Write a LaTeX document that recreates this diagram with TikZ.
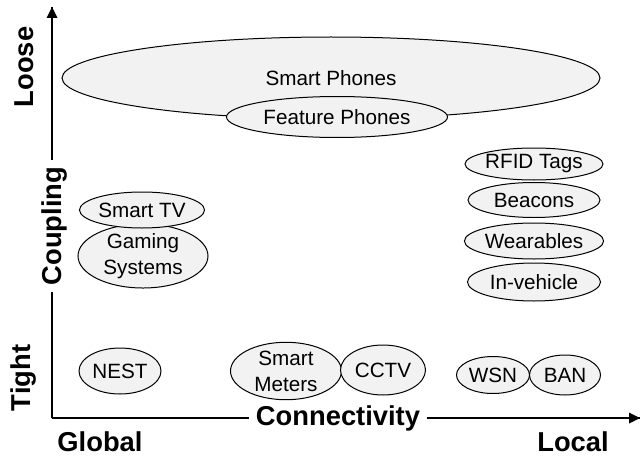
\documentclass[tikz,border=0pt]{standalone}
\usepackage{fontspec}
\setmainfont{Liberation Sans}
\usepackage{tikz}
\usetikzlibrary{shapes.geometric}
\definecolor{bubblefill}{RGB}{242,242,242}
\tikzset{every picture/.style={line width=0.75pt}}
\tikzset{
  bubble/.style={ellipse, draw, fill=bubblefill, inner sep=0pt, align=center, font=\fontsize{15.5}{19.5}\selectfont},
  bsize/.style 2 args={minimum width=#1*0.75pt, minimum height=#2*0.75pt},
  axislabel/.style={font=\fontsize{20.5}{24}\selectfont\bfseries, inner sep=0pt},
  axisline/.style={line width=1.1pt},
}

\begin{document}
\begin{tikzpicture}[x=0.75pt,y=0.75pt,yscale=-1,xscale=1]
\path (0,0) rectangle (642,460); %diagram is 642 x 460

%Axes
\coordinate (origin) at (52,418);
\coordinate (xtip) at (640,418);
\coordinate (ytip) at (52,7);
\draw [axisline] (origin) -- (xtip) ;
\draw [axisline] (origin) -- (ytip) ;
\fill (xtip) -- ++(-11,-5.5) -- ++(0,11) -- cycle ;
\fill (ytip) -- ++(-5.5,11) -- ++(11,0) -- cycle ;

%Axis labels
\node [axislabel, rotate=90] (loose) at (24,67) {Loose};
\node [axislabel, rotate=90, fill=white, inner xsep=5pt] (coupling) at (54,226) {Coupling};
\node [axislabel, rotate=90] (tight) at (23,378) {Tight};
\node [axislabel, fill=white, inner xsep=5pt] (connectivity) at (338,418) {Connectivity};
\node [axislabel] (global) at (100,442) {Global};
\node [axislabel] (local) at (573,442) {Local};

%Phones
\node [bubble, bsize={538}{82}] (smartphones) at (331,78) {Smart Phones};
\node [bubble, bsize={221}{41}] (featurephones) at (337,117) {Feature Phones};

%Global, loose-ish
\node [bubble, bsize={130}{57}] (gaming) at (143,256) {Gaming\\Systems};
\node [bubble, bsize={125}{36}] (smarttv) at (142,210) {Smart TV};

%Local, loose-ish
\node [bubble, bsize={132}{32}] (rfid) at (534,164) {RFID Tags};
\node [bubble, bsize={132}{35}] (beacons) at (534,200) {Beacons};
\node [bubble, bsize={133}{36}] (wearables) at (534,241) {Wearables};
\node [bubble, bsize={133}{38}] (invehicle) at (534,282) {In-vehicle};

%Tight
\node [bubble, bsize={82}{46}] (nest) at (120,371) {NEST};
\node [bubble, bsize={111}{54}] (smartmeters) at (286,371) {Smart\\Meters};
\node [bubble, bsize={85}{50}] (cctv) at (383,370) {CCTV};
\node [bubble, bsize={73}{37}] (wsn) at (493,375) {WSN};
\node [bubble, bsize={71}{40}] (ban) at (565,375) {BAN};

\end{tikzpicture}
\end{document}
